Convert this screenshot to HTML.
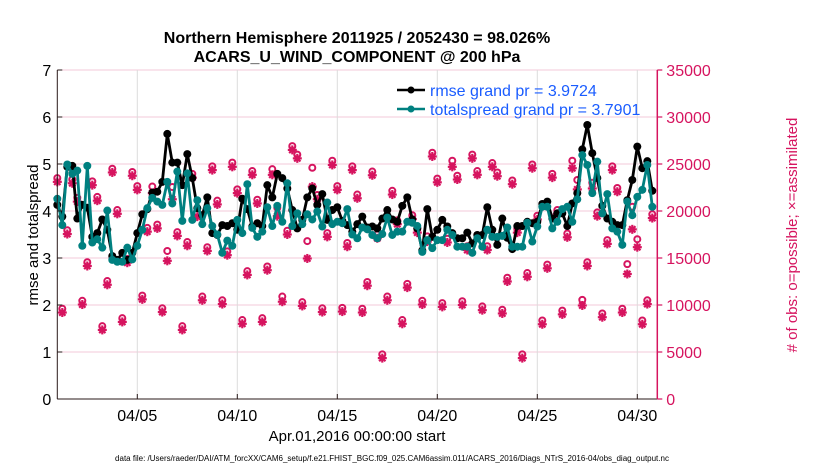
<!DOCTYPE html>
<html><head><meta charset="utf-8"><style>
html,body{margin:0;padding:0;background:#fff;}
svg{display:block;font-family:"Liberation Sans",Arial,sans-serif;}
</style></head><body>
<svg id="chart" width="830" height="470" viewBox="0 0 830 470">
<g id="grid"></g>
<g id="obs"></g>
<g id="lines"></g>
<g id="axes"></g>
<text x="357" y="43" text-anchor="middle" font-size="16" font-weight="bold">Northern Hemisphere 2011925 / 2052430 = 98.026%</text>
<text x="357" y="62" text-anchor="middle" font-size="16" font-weight="bold">ACARS_U_WIND_COMPONENT @ 200 hPa</text>
<text transform="translate(38,235) rotate(-90)" text-anchor="middle" font-size="15">rmse and totalspread</text>
<text transform="translate(797,235) rotate(-90)" text-anchor="middle" font-size="15" fill="#d6145f"># of obs: o=possible; ×=assimilated</text>
<text x="357" y="441" text-anchor="middle" font-size="15">Apr.01,2016 00:00:00 start</text>
<text x="392" y="461" text-anchor="middle" font-size="8">data file: /Users/raeder/DAI/ATM_forcXX/CAM6_setup/f.e21.FHIST_BGC.f09_025.CAM6assim.011/ACARS_2016/Diags_NTrS_2016-04/obs_diag_output.nc</text>
<g>
<g>
<line x1="397" y1="90" x2="425" y2="90" stroke="#000" stroke-width="2.5"/><circle cx="411" cy="90" r="3.5" fill="#000"/>
<text x="430" y="96" font-size="16" fill="#1a5cff">rmse grand pr = 3.9724</text></g>
<g>
<line x1="397" y1="109" x2="425" y2="109" stroke="#008080" stroke-width="2.5"/><circle cx="411" cy="109" r="3.5" fill="#008080"/>
<text x="430" y="115" font-size="16" fill="#1a5cff">totalspread grand pr = 3.7901</text></g>
</g>
</svg>
<script>
const rmse = [4.13,3.88,4.94,4.96,3.84,4.13,4.07,3.45,3.53,3.82,3.60,3.04,2.96,3.11,2.96,3.11,3.53,3.93,4.04,4.39,4.41,4.62,5.64,5.03,5.03,4.55,5.21,4.70,4.06,3.91,4.29,3.53,3.49,3.70,3.68,3.74,3.60,4.26,4.04,3.67,3.74,
3.68,4.55,4.29,4.79,4.70,4.48,4.02,3.63,3.81,4.29,4.48,4.13,4.36,3.81,4.02,4.08,3.79,3.70,3.56,3.72,3.88,3.65,3.67,3.63,3.84,4.02,3.82,3.77,4.11,4.29,3.82,3.63,3.16,4.04,3.45,3.60,3.81,3.67,3.53,3.42,
3.42,3.54,3.31,3.49,3.49,4.08,3.60,3.28,3.84,3.43,3.19,3.68,3.68,3.77,3.74,3.77,4.15,4.20,3.84,3.95,3.95,3.68,4.16,4.38,5.31,5.83,5.23,4.70,4.11,3.84,3.77,3.70,3.70,4.23,4.66,5.37,4.91,5.06,4.43];
const spread = [4.26,3.70,4.99,4.79,4.86,3.26,4.96,3.33,3.40,3.22,4.01,2.96,2.92,2.92,3.22,2.97,3.26,3.60,4.06,4.28,4.20,4.13,4.62,4.16,4.84,3.79,4.80,3.81,4.23,3.72,4.06,3.68,3.50,3.11,3.37,3.26,3.81,3.53,4.57,3.64,3.45,
3.56,4.08,3.68,4.11,3.77,4.59,3.68,3.95,3.72,3.93,3.82,3.99,3.67,4.18,3.72,3.77,3.74,4.04,3.50,3.42,3.65,3.61,3.49,3.42,3.51,3.86,3.49,3.56,3.56,3.77,3.75,3.68,3.13,3.38,3.21,3.38,3.38,3.60,3.49,3.24,
3.24,3.24,3.11,3.42,3.24,3.60,3.45,3.45,3.47,3.65,3.24,3.24,3.24,3.75,3.35,3.67,4.09,4.09,3.63,3.77,4.04,4.09,3.77,4.25,5.19,4.98,4.38,5.05,3.95,4.36,3.63,3.56,3.28,4.20,3.91,4.30,4.45,4.98,4.09];
const nposs = [23500,9600,17950,23350,21400,10450,14550,23150,21500,7750,12550,24500,20100,8600,14900,24150,22650,11000,18200,22600,18550,9650,15750,22550,17750,7750,16700,23950,19800,10900,16150,24750,21100,10500,15700,25150,22300,8400,13600,24250,21200,
8600,14100,24450,20350,10900,17900,26900,26000,10300,16800,24600,21700,9650,17650,25350,22650,9700,16600,24750,21750,9600,12450,24200,17500,4750,10900,22150,19000,8400,12250,19550,18100,10450,17300,26200,23450,10200,17050,25350,23750,
10400,16250,26000,24250,9850,16250,25100,24100,9500,12900,23250,18100,4750,13400,24950,19500,8350,14300,23950,20100,9400,17600,25350,23300,10550,14550,23000,19850,9100,16900,24750,22450,9600,14350,20450,17000,8350,10500,19650];
const nused = [23100,9200,17550,22950,21000,10050,14150,22750,21100,7350,12150,24100,19700,8200,14500,23750,22250,10600,17800,21900,18150,9250,14700,21250,17350,7350,16300,23550,19400,10500,15750,24350,20700,10100,15300,24700,21900,8000,13200,23850,20800,
8200,13700,23850,19450,10350,17500,26500,25600,9900,14950,22600,21250,9250,17250,24900,22250,9300,16200,24350,21350,9200,12050,23800,17100,4350,10500,21750,18600,8000,11850,19150,17700,10050,16750,25800,23050,9800,16650,24700,23350,
10000,15850,25600,23850,9450,15850,24700,23700,9100,12500,22850,17700,4350,13000,24550,19100,7950,13900,23550,19700,9000,17200,24550,22300,9950,14150,22400,19450,8700,16500,24350,22050,9200,13300,18050,16150,7950,10100,19250];
const xTickDays = [4,9,14,19,24,29];
const xTickLabels = ["04/05","04/10","04/15","04/20","04/25","04/30"];
const yLeftTicks = [0,1,2,3,4,5,6,7];
const yRightTicks = [0,5000,10000,15000,20000,25000,30000,35000];
const sampleHours = 6;

const NS = "http://www.w3.org/2000/svg";
const X0 = 57.3, X1 = 657.3, Y0 = 399, Y1 = 70;
const xScale = d => X0 + d / 30 * (X1 - X0);
const yL = v => Y0 - v / 7 * (Y0 - Y1);
const yR = c => Y0 - c / 35000 * (Y0 - Y1);
const PINK = "#d6145f";
function mk(tag, attrs, parent) {
  const e = document.createElementNS(NS, tag);
  for (const k in attrs) e.setAttribute(k, attrs[k]);
  parent.appendChild(e);
  return e;
}
const grid = document.getElementById('grid');
const axes = document.getElementById('axes');
const obs = document.getElementById('obs');
const lines = document.getElementById('lines');

yRightTicks.forEach((t, i) => {
  if (i === 0) return;
  const g = mk('line', {x1: X0, x2: X1, y1: yR(t), y2: yR(t), stroke: '#f3c9d8', 'stroke-width': 1}, grid);
  
  
});
xTickDays.forEach(d => {
  const g = mk('line', {x1: xScale(d), x2: xScale(d), y1: Y1, y2: Y0, stroke: '#dcdcdc', 'stroke-width': 1}, grid);
  
  
});

let a = mk('line', {x1: X0, x2: X0, y1: Y1, y2: Y0, stroke: '#2a1a1a', 'stroke-width': 1}, axes);


a = mk('line', {x1: X0, x2: X1, y1: Y0, y2: Y0, stroke: '#2a1a1a', 'stroke-width': 1}, axes);


a = mk('line', {x1: X1, x2: X1, y1: Y1, y2: Y0, stroke: PINK, 'stroke-width': 1.5}, axes);



yLeftTicks.forEach(t => {
  mk('line', {x1: X0, x2: X0 + 5, y1: yL(t), y2: yL(t), stroke: '#2a1a1a'}, axes);
  const tx = mk('text', {x: X0 - 6, y: yL(t) + 6, 'text-anchor': 'end', 'font-size': 16}, axes);
  tx.textContent = t;
  
  
});
yRightTicks.forEach(t => {
  mk('line', {x1: X1, x2: X1 + 5, y1: yR(t), y2: yR(t), stroke: PINK, 'stroke-width': 1.2}, axes);
  const tx = mk('text', {x: X1 + 9, y: yR(t) + 6, 'font-size': 16, fill: PINK}, axes);
  tx.textContent = t;
  
  
});
xTickDays.forEach((d, i) => {
  mk('line', {x1: xScale(d), x2: xScale(d), y1: Y0, y2: Y0 - 5, stroke: '#2a1a1a'}, axes);
  const tx = mk('text', {x: xScale(d), y: Y0 + 22, 'text-anchor': 'middle', 'font-size': 16}, axes);
  tx.textContent = xTickLabels[i];
  
  
});

const dayOf = i => i * sampleHours / 24;

nused.forEach((c, i) => {
  const x = xScale(dayOf(i)), y = yR(c), s = 4.5;
  const g = mk('g', {stroke: PINK, 'stroke-width': 2.2}, obs);
  
  
  mk('line', {x1: x - s, x2: x + s, y1: y, y2: y}, g);
  mk('line', {x1: x, x2: x, y1: y - s, y2: y + s}, g);
  mk('line', {x1: x - s*0.7, x2: x + s*0.7, y1: y - s*0.7, y2: y + s*0.7}, g);
  mk('line', {x1: x - s*0.7, x2: x + s*0.7, y1: y + s*0.7, y2: y - s*0.7}, g);
});
nposs.forEach((c, i) => {
  const ci = mk('circle', {cx: xScale(dayOf(i)), cy: yR(c), r: 3, fill: 'none', stroke: PINK, 'stroke-width': 2}, obs);
  
  
});

function drawSeries(vals, color, name) {
  const pts = vals.map((v, i) => xScale(dayOf(i)).toFixed(1) + ',' + yL(v).toFixed(1)).join(' ');
  const pl = mk('polyline', {points: pts, fill: 'none', stroke: color, 'stroke-width': 2.8, 'stroke-linejoin': 'round'}, lines);
  
  
  vals.forEach((v, i) => {
    const c = mk('circle', {cx: xScale(dayOf(i)), cy: yL(v), r: 4, fill: color}, lines);
    
    
  });
}
drawSeries(rmse, '#000000', 'rmse');
drawSeries(spread, '#008080', 'totalspread');
</script>
</body></html>
